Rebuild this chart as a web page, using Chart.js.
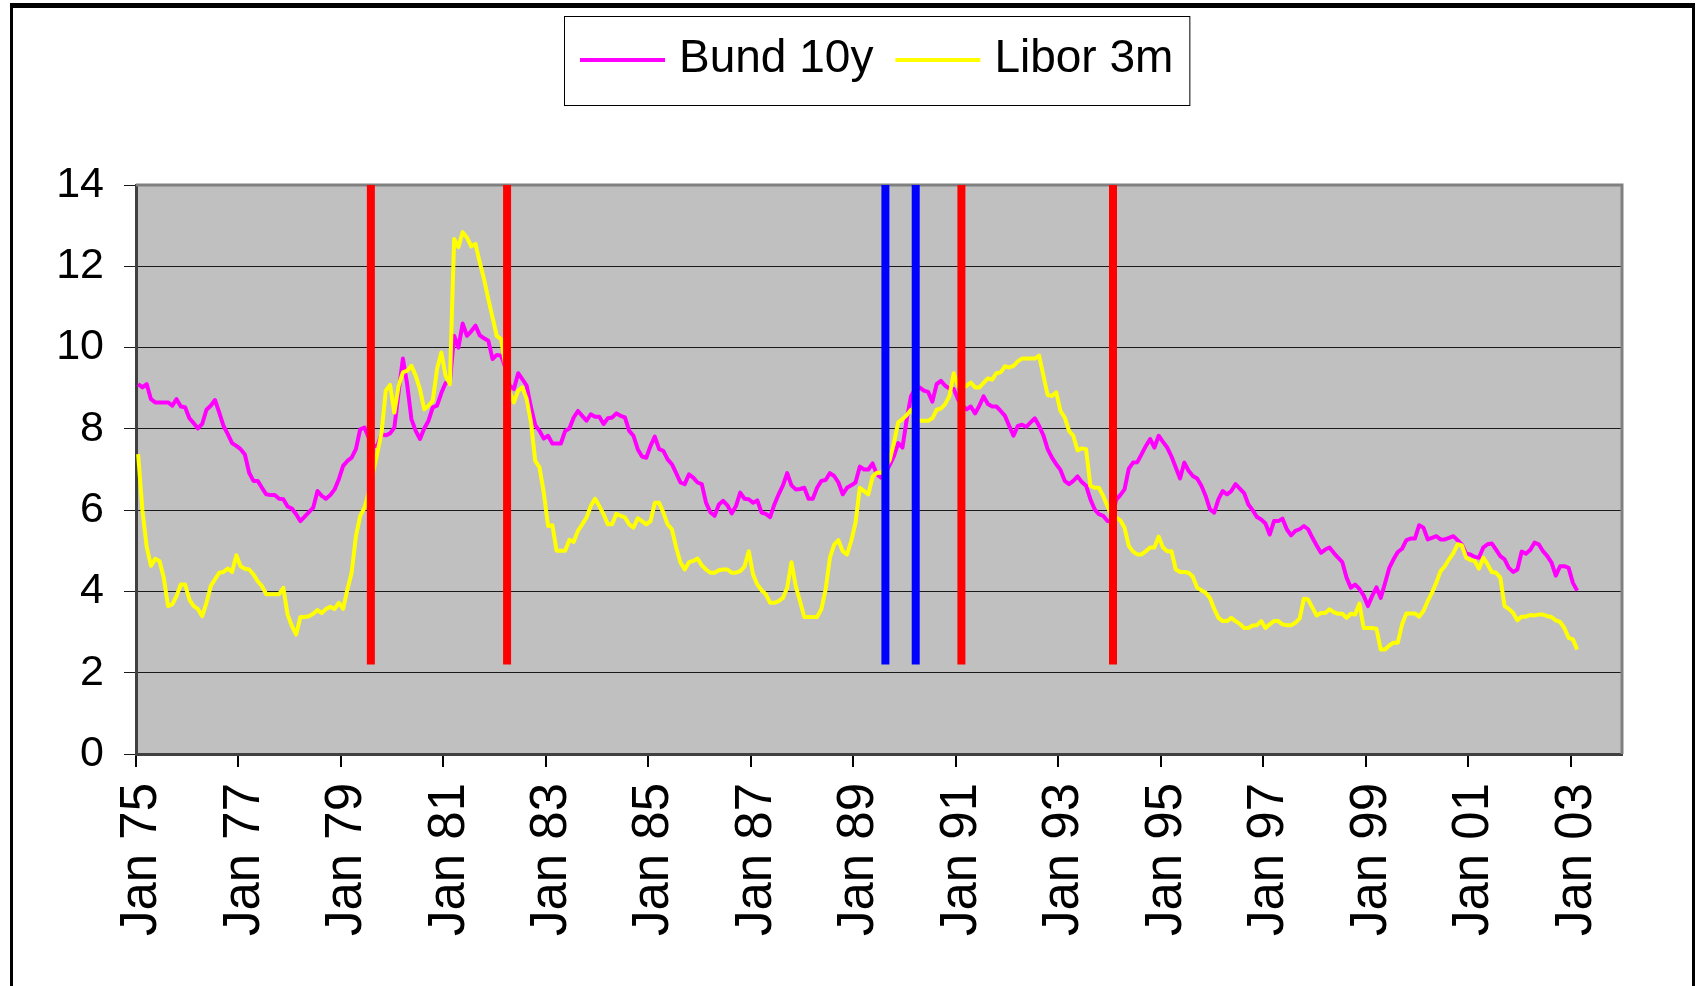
<!DOCTYPE html>
<html>
<head>
<meta charset="utf-8">
<title>Bund 10y vs Libor 3m</title>
<script src="https://cdn.jsdelivr.net/npm/chart.js@4/dist/chart.umd.min.js"></script>
<style>
    html, body { margin: 0; padding: 0; background: #fff; width: 1703px; height: 986px; overflow: hidden; }
    #chart { position: absolute; left: 0; top: 0; }
    #frame {
        position: absolute; left: 10px; top: 3px; width: 1685px; height: 1000px; box-sizing: border-box;
        border-top: 5px solid #000; border-left: 3px solid #000; border-right: 3px solid #000;
        pointer-events: none;
    }
</style>
</head>
<body>
<canvas id="chart" width="1703" height="986"></canvas>
<div id="frame"></div>
<script>
// monthly values, Jan 75 .. Feb 03 (one row per year)
const bund10y = [
    9.10, 9.02, 9.10, 8.73, 8.65, 8.65, 8.65, 8.65, 8.57, 8.73, 8.55, 8.53,
    8.26, 8.14, 8.01, 8.12, 8.47, 8.57, 8.71, 8.40, 8.07, 7.87, 7.65, 7.58,
    7.50, 7.37, 6.92, 6.72, 6.72, 6.55, 6.39, 6.37, 6.37, 6.28, 6.27, 6.09,
    6.04, 5.90, 5.73, 5.84, 5.95, 6.06, 6.47, 6.35, 6.28, 6.37, 6.51, 6.76,
    7.09, 7.21, 7.29, 7.50, 7.99, 8.03, 7.79, 7.58, 7.58, 7.87, 7.84, 7.89,
    8.03, 8.90, 9.73, 9.10, 8.24, 7.95, 7.75, 8.01, 8.20, 8.53, 8.57, 8.88,
    9.13, 9.15, 10.29, 10.00, 10.59, 10.29, 10.40, 10.54, 10.30, 10.23, 10.17, 9.72,
    9.82, 9.80, 9.51, 9.06, 8.98, 9.37, 9.22, 9.06, 8.53, 8.09, 7.95, 7.76,
    7.83, 7.64, 7.64, 7.64, 7.95, 8.01, 8.28, 8.44, 8.32, 8.20, 8.36, 8.30,
    8.30, 8.12, 8.26, 8.28, 8.38, 8.32, 8.28, 7.95, 7.83, 7.50, 7.32, 7.29,
    7.58, 7.81, 7.50, 7.46, 7.25, 7.13, 6.91, 6.68, 6.64, 6.88, 6.80, 6.68,
    6.64, 6.18, 5.95, 5.86, 6.14, 6.23, 6.12, 5.92, 6.10, 6.43, 6.28, 6.27,
    6.18, 6.24, 5.94, 5.91, 5.83, 6.14, 6.39, 6.61, 6.91, 6.61, 6.51, 6.52,
    6.55, 6.28, 6.28, 6.55, 6.72, 6.74, 6.91, 6.84, 6.68, 6.39, 6.55, 6.61,
    6.68, 7.07, 7.00, 7.00, 7.15, 6.88, 6.80, 6.92, 7.11, 7.33, 7.65, 7.54,
    8.24, 8.81, 8.98, 9.02, 8.94, 8.91, 8.67, 9.10, 9.18, 9.06, 8.99, 8.98,
    8.73, 8.57, 8.48, 8.55, 8.38, 8.57, 8.80, 8.61, 8.55, 8.55, 8.44, 8.32,
    8.07, 7.83, 8.07, 8.10, 8.05, 8.16, 8.26, 8.07, 7.84, 7.50, 7.29, 7.13,
    6.99, 6.72, 6.64, 6.72, 6.83, 6.69, 6.60, 6.27, 6.02, 5.90, 5.86, 5.73,
    5.72, 6.25, 6.37, 6.51, 7.02, 7.17, 7.18, 7.38, 7.58, 7.75, 7.54, 7.83,
    7.68, 7.54, 7.32, 7.05, 6.78, 7.17, 6.97, 6.84, 6.78, 6.60, 6.35, 6.02,
    5.94, 6.27, 6.47, 6.39, 6.47, 6.64, 6.53, 6.42, 6.14, 6.00, 5.83, 5.77,
    5.67, 5.40, 5.73, 5.73, 5.79, 5.53, 5.38, 5.49, 5.53, 5.61, 5.53, 5.32,
    5.13, 4.95, 5.03, 5.08, 4.95, 4.83, 4.72, 4.34, 4.09, 4.17, 4.06, 3.90,
    3.64, 3.89, 4.10, 3.84, 4.20, 4.58, 4.79, 4.97, 5.05, 5.26, 5.30, 5.30,
    5.63, 5.57, 5.28, 5.32, 5.36, 5.28, 5.28, 5.32, 5.36, 5.26, 5.15, 4.93,
    4.91, 4.85, 4.83, 5.08, 5.16, 5.18, 5.03, 4.87, 4.79, 4.58, 4.48, 4.54,
    4.98, 4.93, 5.02, 5.20, 5.16, 4.99, 4.87, 4.71, 4.39, 4.62, 4.62, 4.58,
    4.21, 4.02
];

const libor3m = [
    7.38, 6.00, 5.10, 4.63, 4.80, 4.75, 4.34, 3.64, 3.68, 3.89, 4.17, 4.17,
    3.80, 3.64, 3.57, 3.39, 3.72, 4.13, 4.30, 4.46, 4.48, 4.56, 4.48, 4.89,
    4.62, 4.56, 4.54, 4.42, 4.25, 4.13, 3.93, 3.93, 3.93, 3.93, 4.09, 3.43,
    3.15, 2.94, 3.37, 3.37, 3.39, 3.45, 3.54, 3.47, 3.57, 3.62, 3.57, 3.72,
    3.57, 4.05, 4.46, 5.36, 5.86, 6.06, 6.43, 6.92, 7.40, 7.90, 8.94, 9.08,
    8.40, 9.06, 9.39, 9.43, 9.55, 9.31, 8.98, 8.48, 8.57, 8.69, 9.47, 9.88,
    9.31, 9.10, 12.67, 12.47, 12.84, 12.71, 12.49, 12.55, 12.10, 11.69, 11.20, 10.74,
    10.28, 10.21, 9.55, 8.90, 8.65, 8.94, 9.02, 8.73, 8.16, 7.21, 7.05, 6.43,
    5.61, 5.63, 5.00, 5.00, 5.00, 5.27, 5.22, 5.49, 5.65, 5.82, 6.10, 6.28,
    6.10, 5.90, 5.65, 5.65, 5.91, 5.86, 5.82, 5.65, 5.57, 5.80, 5.73, 5.65,
    5.73, 6.18, 6.18, 5.94, 5.65, 5.53, 5.08, 4.71, 4.54, 4.72, 4.75, 4.81,
    4.64, 4.54, 4.46, 4.46, 4.52, 4.54, 4.54, 4.46, 4.46, 4.50, 4.61, 4.99,
    4.42, 4.17, 4.03, 3.93, 3.72, 3.72, 3.76, 3.84, 4.09, 4.72, 4.13, 3.76,
    3.37, 3.37, 3.37, 3.37, 3.56, 4.05, 4.83, 5.15, 5.26, 4.99, 4.91, 5.24,
    5.69, 6.55, 6.47, 6.39, 6.82, 6.92, 6.92, 7.04, 7.23, 7.66, 8.16, 8.24,
    8.34, 8.47, 8.32, 8.20, 8.20, 8.20, 8.26, 8.47, 8.50, 8.61, 8.81, 9.37,
    9.05, 9.02, 9.06, 9.14, 9.02, 9.02, 9.13, 9.24, 9.21, 9.37, 9.39, 9.54,
    9.51, 9.55, 9.66, 9.73, 9.73, 9.73, 9.73, 9.80, 9.31, 8.83, 8.81, 8.90,
    8.44, 8.28, 7.95, 7.83, 7.47, 7.52, 7.50, 6.60, 6.55, 6.55, 6.35, 6.10,
    5.85, 5.82, 5.75, 5.57, 5.12, 4.98, 4.91, 4.91, 4.99, 5.08, 5.08, 5.35,
    5.08, 4.99, 4.99, 4.54, 4.48, 4.48, 4.46, 4.36, 4.09, 4.03, 3.97, 3.84,
    3.57, 3.35, 3.27, 3.27, 3.35, 3.27, 3.20, 3.10, 3.10, 3.16, 3.17, 3.27,
    3.10, 3.19, 3.27, 3.27, 3.19, 3.17, 3.17, 3.23, 3.33, 3.82, 3.80, 3.60,
    3.41, 3.47, 3.47, 3.56, 3.49, 3.45, 3.45, 3.35, 3.45, 3.43, 3.70, 3.10,
    3.10, 3.10, 3.08, 2.57, 2.57, 2.67, 2.74, 2.74, 3.19, 3.46, 3.46, 3.46,
    3.38, 3.52, 3.76, 3.97, 4.21, 4.50, 4.62, 4.79, 4.94, 5.16, 5.13, 4.83,
    4.77, 4.75, 4.56, 4.83, 4.67, 4.48, 4.46, 4.34, 3.64, 3.57, 3.47, 3.29,
    3.38, 3.38, 3.42, 3.41, 3.43, 3.43, 3.39, 3.37, 3.29, 3.25, 3.10, 2.86,
    2.82, 2.57
];

// one label every 24 months, starting Jan 75
const tickLabels = [
    'Jan 75', 'Jan 77', 'Jan 79', 'Jan 81', 'Jan 83', 'Jan 85', 'Jan 87', 'Jan 89',
    'Jan 91', 'Jan 93', 'Jan 95', 'Jan 97', 'Jan 99', 'Jan 01', 'Jan 03'
];

// vertical markers, in months since Jan 75
const eventMonths  = [55.0, 86.9, 175.5, 182.6, 193.3, 228.8];
const eventColours = ['#ff0000', '#ff0000', '#0000ff', '#0000ff', '#ff0000', '#ff0000'];
const eventLow     = 2.2;
const eventHigh    = 14;

const axisMonths = 348;
const fontFamily = '"Liberation Sans", Arial, sans-serif';

const toPoints = (values) => values.map((v, i) => ({x: i + 0.5, y: v}));

const datasets = [];

for (let i = 0; i < eventMonths.length; ++i) {
    datasets.push({
        label: 'event' + i,
        data: [{x: eventMonths[i], y: eventLow}, {x: eventMonths[i], y: eventHigh}],
        borderColor: eventColours[i],
        borderWidth: 8,
        borderCapStyle: 'butt',
        pointRadius: 0,
        order: 0
    });
}

datasets.push({
    label: 'Libor 3m',
    data: toPoints(libor3m),
    borderColor: '#ffff00',
    borderWidth: 4,
    borderJoinStyle: 'round',
    pointRadius: 0,
    inLegend: true,
    order: 1
});

datasets.push({
    label: 'Bund 10y',
    data: toPoints(bund10y),
    borderColor: '#ff00ff',
    borderWidth: 4,
    borderJoinStyle: 'round',
    pointRadius: 0,
    inLegend: true,
    order: 2
});

const plotArea = {
    id: 'plotArea',
    beforeDraw (chart)
    {
        const a   = chart.chartArea;
        const ctx = chart.ctx;

        ctx.save();
        ctx.fillStyle = '#c0c0c0';
        ctx.fillRect(a.left, a.top, a.right - a.left, a.bottom - a.top);
        ctx.restore();
    },
    beforeDatasetsDraw (chart)
    {
        const a   = chart.chartArea;
        const ctx = chart.ctx;

        ctx.save();
        ctx.strokeStyle = '#808080';
        ctx.lineWidth   = 3;
        ctx.beginPath();
        ctx.moveTo(a.left, a.top);
        ctx.lineTo(a.right, a.top);
        ctx.lineTo(a.right, a.bottom);
        ctx.stroke();
        ctx.restore();
    }
};

// legend in a framed box, as in the original
const legendBox = {
    id: 'legendBox',
    afterDraw (chart)
    {
        const ctx   = chart.ctx;
        const items = chart.data.datasets.filter((d) => d.inLegend).reverse();
        const lineLen = 85, gap = 14, itemGap = 22, pad = 16;
        const top = 16, height = 89, centre = 877;

        ctx.save();
        ctx.font = '46px ' + fontFamily;

        let total = pad * 2;
        for (let i = 0; i < items.length; ++i) {
            total += lineLen + gap + ctx.measureText(items[i].label).width + (i > 0 ? itemGap : 0);
        }

        const left = Math.round(centre - total / 2);
        ctx.fillStyle   = '#fff';
        ctx.fillRect(left, top, total, height);
        ctx.strokeStyle = '#000';
        ctx.lineWidth   = 1;
        ctx.strokeRect(left + 0.5, top + 0.5, total, height);

        let x = left + pad;
        for (let i = 0; i < items.length; ++i) {
            ctx.strokeStyle = items[i].borderColor;
            ctx.lineWidth   = 4;
            ctx.beginPath();
            ctx.moveTo(x, 60);
            ctx.lineTo(x + lineLen, 60);
            ctx.stroke();
            x += lineLen + gap;

            ctx.fillStyle    = '#000';
            ctx.textBaseline = 'alphabetic';
            ctx.fillText(items[i].label, x, 72);
            x += ctx.measureText(items[i].label).width + itemGap;
        }
        ctx.restore();
    }
};

new Chart(document.getElementById('chart').getContext('2d'), {
    type: 'line',
    data: {datasets: datasets},
    plugins: [plotArea, legendBox],
    options: {
        responsive: false,
        animation: false,
        devicePixelRatio: 1,
        layout: {padding: {top: 185, right: 81, left: 0, bottom: 0}},
        plugins: {legend: {display: false}, tooltip: {enabled: false}},
        scales: {
            x: {
                type: 'linear',
                min: 0,
                max: axisMonths,
                afterFit: (scale) => { scale.height = 232; },
                afterBuildTicks: (scale) => {
                    scale.ticks = tickLabels.map((l, i) => ({value: i * 24}));
                },
                ticks: {
                    autoSkip: false,
                    minRotation: 90,
                    maxRotation: 90,
                    padding: 16,
                    labelOffset: 6,
                    color: '#000',
                    font: {family: fontFamily, size: 51},
                    callback: (value) => tickLabels[Math.round(value / 24)]
                },
                grid: {drawOnChartArea: false, drawTicks: true, tickLength: 13, color: '#000', lineWidth: 2},
                border: {color: '#404040', width: 3}
            },
            y: {
                min: 0,
                max: 14,
                afterFit: (scale) => { scale.width = 136; },
                ticks: {
                    stepSize: 2,
                    padding: 20,
                    color: '#000',
                    font: {family: fontFamily, size: 43}
                },
                grid: {color: '#1a1a1a', lineWidth: 1, tickLength: 12},
                border: {color: '#404040', width: 3}
            }
        }
    }
});
</script>
</body>
</html>
